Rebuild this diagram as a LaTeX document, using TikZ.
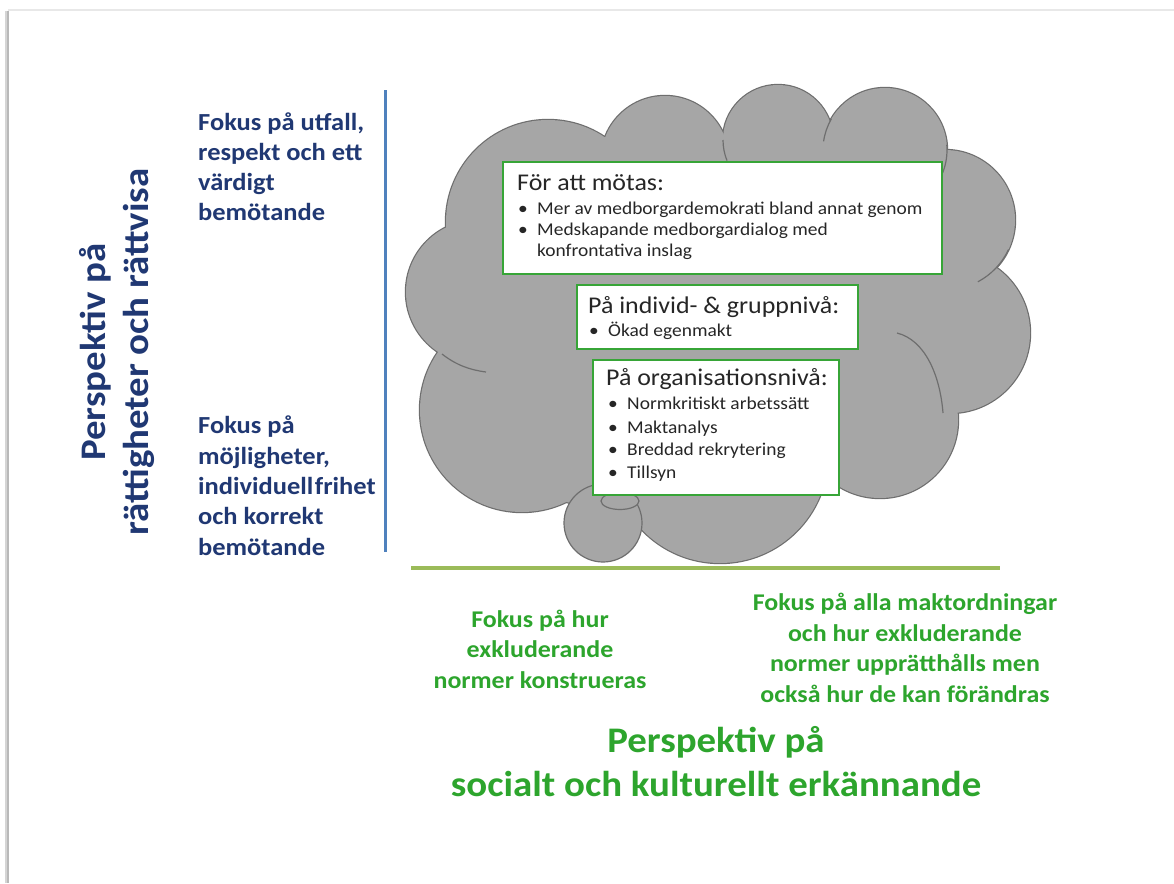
\documentclass[tikz,border=0pt]{standalone}
\usepackage{fontspec}
\setmainfont{Carlito}[FakeStretch=1.08]
\definecolor{bluetext}{RGB}{32,56,115}
\definecolor{blueline}{RGB}{79,129,189}
\definecolor{greentext}{RGB}{45,165,45}
\definecolor{greenline}{RGB}{155,187,89}
\definecolor{boxgreen}{RGB}{55,165,55}
\definecolor{cloudgray}{RGB}{166,166,166}
\definecolor{cloudline}{RGB}{110,110,110}
\definecolor{framedark}{RGB}{185,185,185}
\definecolor{framelight}{RGB}{232,232,232}
\newcommand\fsz[2]{\fontsize{#1}{#2}\selectfont}
\tikzset{
  bluetxt/.style={inner sep=0pt, text=bluetext, font=\fsz{24.5}{30.5}\bfseries},
  greentxt/.style={inner sep=0pt, text=greentext, align=center, font=\fsz{24}{30.5}\bfseries},
  bigblue/.style={inner sep=0pt, text=bluetext, align=center, font=\fsz{36}{43}\bfseries},
  biggreen/.style={inner sep=0pt, text=greentext, align=center, font=\fsz{36}{44}\bfseries},
  greenbox/.style={draw=boxgreen, line width=2.5pt, fill=white, inner sep=0pt, rectangle},
  boxtitle/.style={inner sep=0pt, anchor=base west, text=black!85, font=\fsz{24}{26}},
  boxitem/.style={inner sep=0pt, anchor=base west, text=black!85, font=\fsz{18}{20}},
  crease/.style={draw=cloudline, line width=1.2pt},
}
\begin{document}
\begin{tikzpicture}[x=1pt,y=-1pt]
\useasboundingbox (0,0) rectangle (1174,883);
\fill[white] (0,0) rectangle (1174,883);
% page frame
\draw[framelight, line width=1.5pt] (8,10) -- (1174,10);
\draw[framedark!60, line width=3pt] (6,11) -- (6,883);
\draw[framedark, line width=1.5pt] (8,11) -- (8,883);

% cloud: outlined lobes, then refilled so only the outer edge stays
\def\lobes{478/292/72, 548/222/102, 665/160/64, 778/140/55, 885/150/62,
  945/220/70, 950/333/80, 880/420/78, 720/455/108, 522/410/102, 585/450/55}
\foreach \cx/\cy/\r in \lobes
  \filldraw[fill=cloudgray, draw=cloudline, line width=2.4pt] (\cx,\cy) circle[radius=\r pt];
\foreach \cx/\cy/\r in \lobes
  \fill[cloudgray] (\cx,\cy) circle[radius=\r pt];
\fill[cloudgray] (720,320) ellipse[x radius=250pt, y radius=160pt];
% creases
\draw[crease] (442,354) .. controls (456,365) and (470,370) .. (486,372);
\draw[crease] ([shift={(778,140)}]180:55pt) arc[start angle=180, end angle=202, radius=55pt];
\draw[crease] ([shift={(885,150)}]150:62pt) arc[start angle=150, end angle=172, radius=62pt];
\draw[crease] ([shift={(885,150)}]5:62pt) arc[start angle=5, end angle=-22, radius=62pt];
\draw[crease] ([shift={(945,220)}]-62:70pt) arc[start angle=-62, end angle=-25, radius=70pt];
\draw[crease] (897,333) .. controls (925,340) and (940,375) .. (943,413);
% small bubbles
\filldraw[fill=cloudgray, draw=cloudline, line width=1.2pt] (603,523) circle[radius=39pt];
\filldraw[fill=cloudgray, draw=cloudline, line width=1.2pt] (620,501) ellipse[x radius=19pt, y radius=8.5pt];

% boxes
\node[greenbox, minimum width=439pt, minimum height=112pt] (b1) at (722.5,218) {};
\node[greenbox, minimum width=281pt, minimum height=64pt] (b2) at (717.5,317) {};
\node[greenbox, minimum width=246pt, minimum height=135pt] (b3) at (716,427.5) {};

\node[boxtitle] (b1t) at (517,190) {För att mötas:};
\node[boxitem] (b1d1) at (518,214) {•};
\node[boxitem] (b1i1) at (537,214) {Mer av medborgardemokrati bland annat genom};
\node[boxitem] (b1d2) at (518,235) {•};
\node[boxitem] (b1i2) at (537,235) {Medskapande medborgardialog med};
\node[boxitem] (b1i3) at (537,256) {konfrontativa inslag};

\node[boxtitle] (b2t) at (588,313) {På individ- \& gruppnivå:};
\node[boxitem] (b2d1) at (589,336) {•};
\node[boxitem] (b2i1) at (608,336) {Ökad egenmakt};

\node[boxtitle] (b3t) at (606,385) {På organisationsnivå:};
\foreach \t/\y [count=\i] in {{Normkritiskt arbetssätt}/409, {Maktanalys}/433, {Breddad rekrytering}/455, {Tillsyn}/478}{
  \node[boxitem] (b3d\i) at (608,\y) {•};
  \node[boxitem] (b3i\i) at (627,\y) {\t};
}

% axes
\coordinate (vtop) at (385,90);
\coordinate (vbot) at (385,552);
\draw[blueline, line width=3pt] (vtop) -- (vbot);
\coordinate (hleft) at (411,568);
\coordinate (hright) at (1000,568);
\draw[greenline, line width=4.5pt] (hleft) -- (hright);

% left texts
\foreach \t/\y [count=\i] in {{Fokus på utfall,}/130, {respekt och ett}/160, {värdigt}/190, {bemötande}/220}
  \node[bluetxt, anchor=base west] (lu\i) at (198,\y) {\t};
\foreach \t/\y [count=\i] in {{Fokus på}/433, {möjligheter,}/464, {individuell\hspace{1.5pt}frihet}/494, {och korrekt}/524, {bemötande}/555}
  \node[bluetxt, anchor=base west] (ll\i) at (198,\y) {\t};

\node[bigblue, rotate=90] (ytitle) at (117,352) {Perspektiv på\\rättigheter och rättvisa};

% bottom texts
\node[greentxt] (gl) at (540,649) {Fokus på hur\\exkluderande\\normer konstrueras};
\node[greentxt] (gr) at (905,648) {Fokus på alla maktordningar\\och hur exkluderande\\normer upprätthålls men\\också hur de kan förändras};
\node[biggreen] (xtitle) at (716,762) {Perspektiv på\\socialt och kulturellt erkännande};
\end{tikzpicture}
\end{document}
